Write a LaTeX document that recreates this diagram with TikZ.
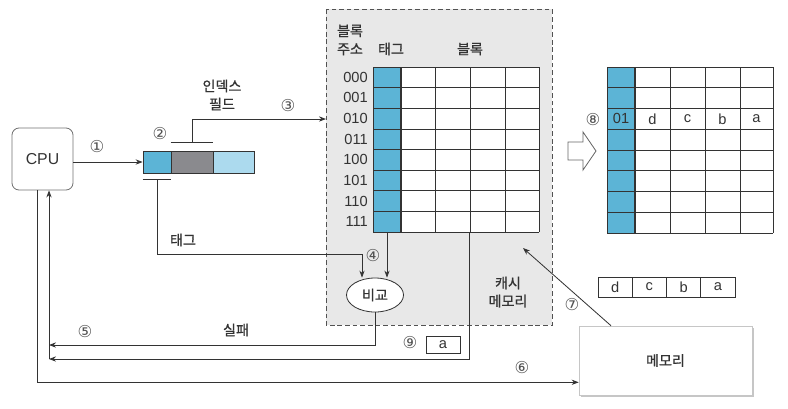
\documentclass[tikz,border=0pt]{standalone}
\usepackage{fontspec}
\setmainfont{Liberation Sans}
\newfontfamily\krfont[FakeBold=0.8]{Noto Sans CJK KR}
\newfontfamily\numfont{DejaVu Sans}
\usetikzlibrary{arrows.meta,shapes.geometric,shadows,calc}
\definecolor{tagblue}{RGB}{92,180,214}
\definecolor{idxgray}{RGB}{138,138,142}
\definecolor{offblue}{RGB}{172,218,238}
\definecolor{cachebg}{RGB}{232,232,232}
\definecolor{ink}{RGB}{51,51,51}
\tikzset{
  line/.style={draw=ink, line width=0.7pt},
  arr/.style={line, -{Stealth[length=6pt,width=4.5pt]}},
  kr/.style={font=\krfont\fontsize{12}{15.5}\selectfont, text=ink, align=center, inner sep=0pt},
  lat/.style={font=\fontsize{12.5}{14}\selectfont, text=ink, inner sep=0pt},
  num/.style={font=\numfont\fontsize{14}{16}\selectfont, text=ink!85, inner sep=0pt},
  cellgrid/.style={draw=ink, line width=0.6pt},
  regcell/.style={draw=ink, line width=0.6pt, inner sep=0pt, minimum height=0.66cm},
  datacell/.style={draw=ink, line width=0.6pt, inner sep=0pt, minimum height=0.6cm, minimum width=1.0275cm, font=\fontsize{12.5}{14}\selectfont, text=ink},
}
\begin{document}
\begin{tikzpicture}[x=0.03cm, y=-0.03cm]
  \useasboundingbox (0,0) rectangle (788,408);
  % Cache memory frame
  \draw[fill=cachebg, draw=ink!85, line width=0.7pt, dash pattern=on 4pt off 2.5pt]
    (326,9) coordinate (cachetl) rectangle (552,325) coordinate (cachebr);
  \node[kr] (blkaddr) at (350,40) {블록\\주소};
  \node[kr] (taghead) at (391,49) {태그};
  \node[kr] (blkhead) at (470,49) {블록};
  \node[kr] (cachelbl) at (508,292) {캐시\\메모리};
  % Cache table
  \fill[tagblue] (373,67) rectangle (401,232);
  \fill[white] (401,67) rectangle (539,232);
  \foreach \x in {373,401,435,470,505,539}
    \draw[cellgrid] (\x,67) -- (\x,232);
  \foreach \r in {0,...,8}
    \draw[cellgrid] (373,{67+\r*20.625}) -- (539,{67+\r*20.625});
  \draw[ink, line width=1pt] (401,67) -- (401,232);
  \foreach \lbl [count=\i from 0] in {000,001,010,011,100,101,110,111}
    \node[lat, anchor=east] (row\i) at (368,{77.3+\i*20.625}) {\lbl};
  \coordinate (tagcolbot) at (387,232);
  \coordinate (blkbot) at (469,232);
  % CPU and address register
  \node[draw=ink!70, line width=0.7pt, rounded corners=6pt, minimum width=1.83cm,
    minimum height=1.86cm, font=\fontsize{13.5}{15}\selectfont, text=ink] (cpu) at (42.5,159) {CPU};
  \node[regcell, fill=tagblue, minimum width=0.84cm] (rtag) at (157,162) {};
  \node[regcell, fill=idxgray, minimum width=1.26cm] (ridx) at (192,162) {};
  \node[regcell, fill=offblue, minimum width=1.23cm] (roff) at (233.5,162) {};
  \draw[arr] (cpu.east |- rtag.west) -- (rtag.west);
  % Index field
  \draw[line] ($(ridx.north west)+(0,-8)$) -- ($(ridx.north east)+(0,-8)$);
  \coordinate (idxtap) at ($(ridx.north)+(0,-8)$);
  \coordinate (idxbend) at (192,119);
  \draw[arr] (idxtap) -- (idxbend) -- (idxbend -| cachetl);
  \node[kr] (idxlbl) at (222,95) {인덱스\\필드};
  % Tag field
  \draw[line] ($(rtag.south west)+(0,6)$) -- ($(rtag.south east)+(0,6)$);
  \coordinate (tagtap) at ($(rtag.south)+(0,6)$);
  \coordinate (tagbend) at (362,254);
  \node[kr] (taglbl) at (183,240) {태그};
  % Compare
  \node[ellipse, draw=ink, line width=0.7pt, fill=white, minimum width=1.71cm,
    minimum height=1.02cm, inner sep=0pt, font=\krfont\fontsize{12}{13}\selectfont, text=ink] (cmp) at (375,295) {비교};
  \draw[arr] (tagtap) |- (tagbend) -- (tagbend |- cmp.north);
  \draw[arr] (tagcolbot) -- (tagcolbot |- cmp.north);
  % Return paths to CPU
  \coordinate (upx) at ($(cpu.south)+(6.5,0)$);
  \coordinate (downx) at ($(cpu.south)+(-5.5,0)$);
  \coordinate (failend) at (49,345);
  \coordinate (hitend) at (49,359);
  \draw[arr] (cmp.south) |- (failend);
  \draw[arr] (blkbot) |- (hitend);
  \draw[arr] (hitend) -- (upx);
  \node[kr] (faillbl) at (236,330) {실패};
  \node[datacell, minimum width=1.02cm, minimum height=0.5cm] (aout) at (443,345) {a};
  % Memory
  \node[draw=gray!45, line width=0.5pt, fill=white,
    drop shadow={shadow xshift=2pt, shadow yshift=-2pt, opacity=0.45},
    minimum width=5.19cm, minimum height=2.07cm, font=\krfont\fontsize{12}{13}\selectfont, text=ink] (mem) at (665.5,360.5) {메모리};
  \draw[arr] (downx) |- ($(mem.south west)+(0,-13)$);
  \coordinate (fillpt) at (523,248);
  \draw[arr] ($(mem.north)+(-54.5,0)$) -- (fillpt);
  % Block from memory
  \foreach \ch [count=\i from 0] in {d,c,b,a}
    \node[datacell] (blk\i) at ({615.1+\i*34.25},287) {\ch};
  % Hollow arrow
  \draw[ink!75, fill=white, line width=0.7pt]
    (568,142) -- (583,142) -- (583,132) -- (596,151) -- (583,170) -- (583,160) -- (568,160) -- cycle;
  % Filled cache table
  \fill[tagblue] (607,67) rectangle (635,233);
  \foreach \x in {607,635,670,705,740,773}
    \draw[cellgrid] (\x,67) -- (\x,233);
  \foreach \r in {0,...,8}
    \draw[cellgrid] (607,{67+\r*20.75}) -- (773,{67+\r*20.75});
  \draw[ink, line width=1pt] (635,67) -- (635,233);
  \node[lat] (newtag) at (621,118.9) {01};
  \foreach \ch/\x [count=\i from 0] in {d/652.5,c/687.5,b/722.5,a/756.5}
    \node[lat] (new\i) at (\x,118.9) {\ch};
  % Step numbers
  \node[num] (s1) at (97,147) {①};
  \node[num] (s2) at (160,134) {②};
  \node[num] (s3) at (288,106) {③};
  \node[num] (s4) at (373,256) {④};
  \node[num] (s5) at (85,332) {⑤};
  \node[num] (s6) at (522,368) {⑥};
  \node[num] (s7) at (572,305) {⑦};
  \node[num] (s8) at (593,120) {⑧};
  \node[num] (s9) at (410,343) {⑨};
\end{tikzpicture}
\end{document}
